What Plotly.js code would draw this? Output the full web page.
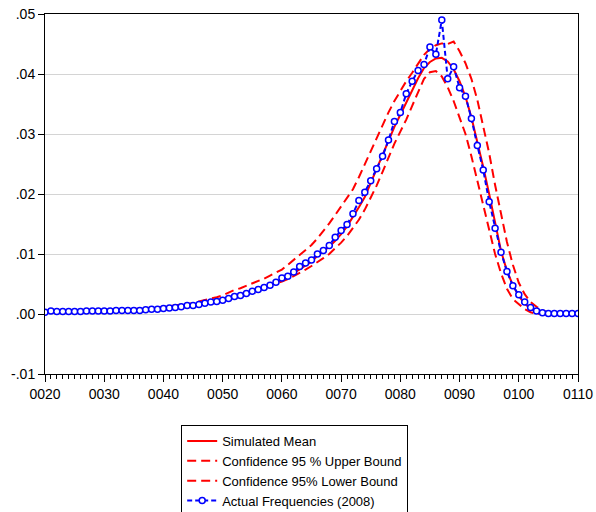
<!DOCTYPE html>
<html>
<head>
<meta charset="utf-8">
<script src="https://cdn.plot.ly/plotly-3.0.1.min.js"></script>
<style>html,body{margin:0;padding:0;background:#fff;}#chart{width:596px;height:512px;}</style>
</head>
<body>
<div id="chart"></div>
<script>
// x categories 20..110
const xValues = [];
for (let v = 20; v <= 110; v++) xValues.push(v);

const xTickVals = [20,30,40,50,60,70,80,90,100,110];
const xTickText = ["0020","0030","0040","0050","0060","0070","0080","0090","0100","0110"];
const yTickVals = [-0.01,0,0.01,0.02,0.03,0.04,0.05];
const yTickText = ["-.01",".00",".01",".02",".03",".04",".05"];

const seriesNames = ["Simulated Mean", "Confidence 95 % Upper Bound",
                     "Confidence 95% Lower Bound", "Actual Frequencies (2008)"];

// Actual Frequencies (2008), x = 20..110
const actual = [
 0.0003,0.0005,0.0004,0.0004,0.0004,0.0004,0.0004,0.0005,0.0005,0.0005,
 0.0005,0.0005,0.0006,0.0006,0.0006,0.0006,0.0006,0.0007,0.0008,0.0008,
 0.0009,0.0010,0.0011,0.0012,0.0014,0.0014,0.0016,0.0018,0.0020,0.0021,
 0.0023,0.0026,0.0029,0.0031,0.0034,0.0038,0.0041,0.0044,0.0048,0.0053,
 0.0060,0.0063,0.0070,0.0079,0.0085,0.0090,0.0100,0.0106,0.0114,0.0128,
 0.0139,0.0149,0.0167,0.0189,0.0203,0.0222,0.0242,0.0263,0.0290,0.0321,
 0.0336,0.0367,0.0388,0.0406,0.0416,0.0445,0.0433,0.0490,0.0392,0.0412,
 0.0377,0.0363,0.0326,0.0281,0.0240,0.0187,0.0143,0.0103,0.0071,0.0047,
 0.0032,0.0020,0.0011,0.0005,0.0002,0.0001,0.0001,0.0001,0.0001,0.0001,
 0.0001
];

// Simulated Mean, x = 20..106
const simMean = [
 0.0003,0.0004,0.0004,0.0004,0.0004,0.0004,0.0005,0.0005,0.0005,0.0005,
 0.0005,0.0005,0.0006,0.0006,0.0006,0.0007,0.0007,0.0008,0.0008,0.0009,
 0.0010,0.0011,0.0012,0.0013,0.0014,0.0015,0.0017,0.0018,0.0020,0.0022,
 0.0024,0.0026,0.0029,0.0031,0.0034,0.0037,0.0040,0.0044,0.0048,0.0052,
 0.0057,0.0062,0.0068,0.0074,0.0080,0.0087,0.0097,0.0104,0.0112,0.0122,
 0.0133,0.0146,0.0161,0.0178,0.0195,0.0218,0.0242,0.0266,0.0290,0.0312,
 0.0332,0.0352,0.0372,0.0393,0.0410,0.0420,0.0426,0.0427,0.0421,0.0408,
 0.0388,0.0362,0.0328,0.0288,0.0245,0.0200,0.0155,0.0105,0.0072,0.0048,
 0.0030,0.0017,0.0009,0.0004,0.0002,0.0001,0.0000
];

// Confidence 95% Upper Bound, x = 20..106
const upperBound = [
 0.0004,0.0004,0.0005,0.0005,0.0005,0.0005,0.0006,0.0006,0.0006,0.0006,
 0.0007,0.0007,0.0007,0.0008,0.0008,0.0009,0.0009,0.0010,0.0010,0.0011,
 0.0012,0.0013,0.0014,0.0015,0.0017,0.0018,0.0021,0.0023,0.0025,0.0028,
 0.0031,0.0036,0.0040,0.0043,0.0047,0.0050,0.0054,0.0059,0.0064,0.0069,
 0.0074,0.0082,0.0090,0.0098,0.0106,0.0115,0.0126,0.0138,0.0151,0.0165,
 0.0179,0.0193,0.0208,0.0228,0.0250,0.0273,0.0295,0.0316,0.0336,0.0355,
 0.0372,0.0388,0.0402,0.0418,0.0432,0.0442,0.0448,0.0451,0.0450,0.0454,
 0.0438,0.0418,0.0392,0.0357,0.0315,0.0268,0.0215,0.0165,0.0120,0.0082,
 0.0052,0.0033,0.0020,0.0012,0.0006,0.0002,0.0000
];

// Confidence 95% Lower Bound, x = 20..106
const lowerBound = [
 0.0003,0.0003,0.0003,0.0003,0.0004,0.0004,0.0004,0.0004,0.0004,0.0004,
 0.0005,0.0005,0.0005,0.0005,0.0005,0.0006,0.0006,0.0006,0.0007,0.0007,
 0.0008,0.0009,0.0010,0.0011,0.0012,0.0013,0.0015,0.0016,0.0018,0.0020,
 0.0023,0.0026,0.0029,0.0032,0.0035,0.0038,0.0041,0.0044,0.0047,0.0050,
 0.0054,0.0058,0.0063,0.0068,0.0074,0.0080,0.0086,0.0093,0.0100,0.0109,
 0.0119,0.0130,0.0143,0.0157,0.0174,0.0193,0.0214,0.0237,0.0261,0.0284,
 0.0304,0.0324,0.0347,0.0369,0.0392,0.0403,0.0405,0.0396,0.0378,0.0355,
 0.0328,0.0300,0.0263,0.0222,0.0178,0.0138,0.0100,0.0068,0.0042,0.0025,
 0.0016,0.0008,0.0003,0.0000,0.0000,0.0000,0.0000
];

const redX = xValues.slice(0, simMean.length);

const traces = [
  {x: redX, y: simMean, type: 'scatter', mode: 'lines', name: seriesNames[0],
   line: {color: '#ff0000', width: 2}},
  {x: redX, y: upperBound, type: 'scatter', mode: 'lines', name: seriesNames[1],
   line: {color: '#ff0000', width: 2, dash: '9px,5px'}},
  {x: redX, y: lowerBound, type: 'scatter', mode: 'lines', name: seriesNames[2],
   line: {color: '#ff0000', width: 2, dash: '9px,5px'}},
  {x: xValues, y: actual, type: 'scatter', mode: 'lines+markers', name: seriesNames[3],
   line: {color: '#0000ff', width: 2, dash: '5px,3px'},
   marker: {symbol: 'circle', size: 6, color: '#ffffff', line: {color: '#0000ff', width: 1.5}}}
];

const layout = {
  width: 596, height: 512,
  margin: {l: 45, r: 18, t: 14, b: 138, autoexpand: false},
  paper_bgcolor: '#ffffff', plot_bgcolor: '#ffffff',
  font: {family: 'Liberation Sans, Arial, sans-serif', size: 14, color: '#000'},
  showlegend: true,
  legend: {xref: 'container', yref: 'container', x: 0.304, y: 0.170,
           xanchor: 'left', yanchor: 'top',
           bordercolor: '#000', borderwidth: 1, bgcolor: '#fff',
           font: {size: 13, color: '#000'}, tracegroupgap: 0},
  xaxis: {range: [20, 110], tickmode: 'array', tickvals: xTickVals, ticktext: xTickText,
          showgrid: false, zeroline: false, showline: true, mirror: true,
          linecolor: '#000', linewidth: 1, ticks: 'outside', ticklen: 7, tickcolor: '#000',
          minor: {dtick: 1, ticks: 'outside', ticklen: 4, tickcolor: '#000', showgrid: false},
          tickfont: {size: 14}},
  yaxis: {range: [-0.01, 0.05], tickmode: 'array', tickvals: yTickVals, ticktext: yTickText,
          showgrid: true, gridcolor: '#d4d4d4', gridwidth: 1, zeroline: false,
          showline: true, mirror: true, linecolor: '#000', linewidth: 1,
          ticks: 'outside', ticklen: 6, tickcolor: '#000', tickfont: {size: 14}}
};

Plotly.newPlot('chart', traces, layout, {staticPlot: true, displayModeBar: false});
</script>
</body>
</html>
